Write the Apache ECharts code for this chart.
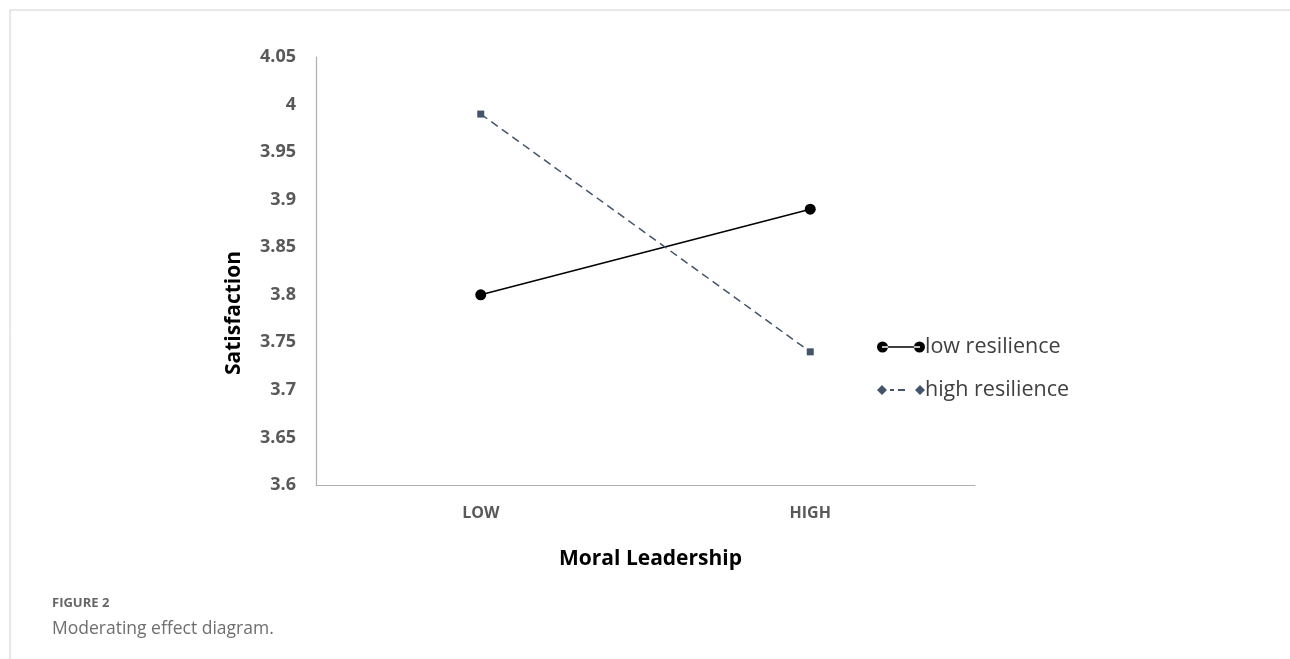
<!DOCTYPE html>
<html>
<head>
<meta charset="utf-8">
<script src="https://cdn.jsdelivr.net/npm/echarts@6/dist/echarts.min.js"></script>
<style>
  html, body { margin: 0; padding: 0; background: #fff; }
  #chart { width: 1290px; height: 659px; }
</style>
</head>
<body>
<div id="chart"></div>
<script>
// data
const categories = ['LOW', 'HIGH'];
const lowResilience = [3.80, 3.89];
const highResilience = [3.99, 3.74];
const yTicks = { min: 3.6, max: 4.05, interval: 0.05 };

const chart = echarts.init(document.getElementById('chart'));

// legend icons drawn like Excel's: marker - line - marker
const lowIcon = 'path://M0 5.5A5.5 5.5 0 1 0 11 5.5A5.5 5.5 0 1 0 0 5.5ZM37 5.5A5.5 5.5 0 1 0 48 5.5A5.5 5.5 0 1 0 37 5.5ZM5 4.8L43 4.8L43 6.2L5 6.2Z';
const highIcon = 'path://M0 5.5L5 0.5L10 5.5L5 10.5ZM38 5.5L43 0.5L48 5.5L43 10.5ZM13 4.6L17 4.6L17 6.4L13 6.4ZM21 4.6L28 4.6L28 6.4L21 6.4Z';

const font = '"Open Sans", sans-serif';

const option = {
    animation: false,
    textStyle: { fontFamily: font },
    grid: { left: 316, right: 315, top: 57, bottom: 174 },
    xAxis: {
        type: 'category',
        data: categories,
        name: 'Moral Leadership',
        nameLocation: 'middle',
        nameGap: 64,
        nameTextStyle: { fontSize: 21, fontWeight: 'bold', color: '#000', padding: [0, 0, 0, 10] },
        axisLine: { lineStyle: { color: '#b0b0b0', width: 1.2 } },
        axisTick: { show: false },
        axisLabel: { fontSize: 16, fontWeight: 'bold', color: '#595959', margin: 20 }
    },
    yAxis: {
        type: 'value',
        min: yTicks.min,
        max: yTicks.max,
        interval: yTicks.interval,
        axisLine: { show: true, lineStyle: { color: '#b0b0b0', width: 1.2 } },
        axisTick: { show: false },
        splitLine: { show: false },
        axisLabel: {
            fontSize: 18, fontWeight: 'bold', color: '#595959', margin: 20,
            formatter: v => String(Math.round(v * 100) / 100)
        }
    },
    legend: {
        orient: 'vertical',
        left: 872,
        top: 331,
        itemWidth: 48,
        itemHeight: 11,
        itemGap: 21,
        textStyle: { fontSize: 21.5, color: '#404040', padding: [0, 0, 0, -5] },
        data: [
            { name: 'low resilience', icon: lowIcon, itemStyle: { color: '#000' } },
            { name: 'high resilience', icon: highIcon, itemStyle: { color: '#44546a' }, lineStyle: { opacity: 0 } }
        ]
    },
    series: [
        {
            name: 'low resilience',
            type: 'line',
            data: lowResilience,
            symbol: 'circle',
            symbolSize: 11,
            itemStyle: { color: '#000' },
            lineStyle: { color: '#000', width: 1.5 }
        },
        {
            name: 'high resilience',
            type: 'line',
            data: highResilience,
            symbol: 'rect',
            symbolSize: 7,
            itemStyle: { color: '#44546a' },
            lineStyle: { color: '#44546a', width: 1.5, type: [8, 5] }
        }
    ],
    graphic: [
        { type: 'line', shape: { x1: 10, y1: 10, x2: 1290, y2: 10 }, style: { stroke: '#d0d0d0', lineWidth: 1 } },
        { type: 'line', shape: { x1: 10, y1: 10, x2: 10, y2: 659 }, style: { stroke: '#d0d0d0', lineWidth: 1 } },
        {
            type: 'text', x: 234, y: 313, rotation: Math.PI / 2,
            style: { text: 'Satisfaction', fontSize: 21, fontWeight: 'bold', fill: '#000', fontFamily: font, align: 'center', verticalAlign: 'middle' }
        },
        { type: 'text', left: 52, top: 597, style: { text: 'FIGURE 2', fontSize: 13, fontWeight: 'bold', fill: '#666', fontFamily: font } },
        { type: 'text', left: 52, top: 620, style: { text: 'Moderating effect diagram.', fontSize: 17.5, fill: '#6e6e6e', fontFamily: font } }
    ]
};

chart.setOption(option);
</script>
</body>
</html>
